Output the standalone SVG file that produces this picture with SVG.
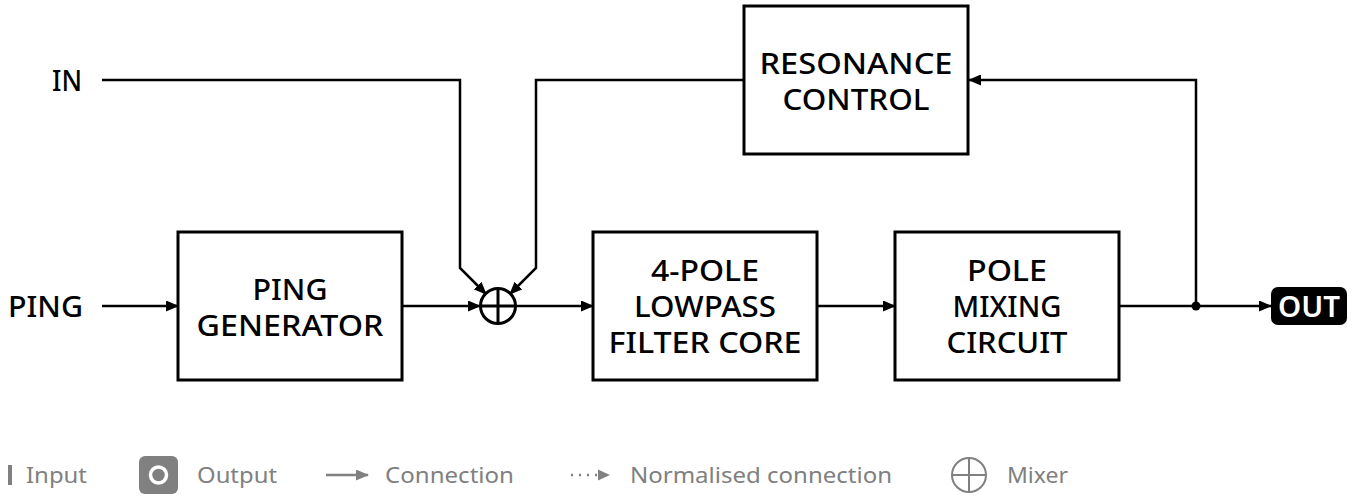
<svg xmlns="http://www.w3.org/2000/svg" width="1360" height="496" viewBox="0 0 1360 496">
<style>
.box{fill:#fff;stroke:#000;stroke-width:3}
.t{font-family:"Noto Sans","Open Sans","DejaVu Sans",sans-serif;font-weight:500;font-size:29px;fill:#000;text-anchor:middle}
.lbl{font-family:"Noto Sans","Open Sans","DejaVu Sans",sans-serif;font-weight:500;font-size:29px;fill:#000}
.w{stroke:#000;stroke-width:2.5;fill:none}
.lg{font-family:"Noto Sans","Open Sans","DejaVu Sans",sans-serif;font-size:22px;fill:#808080}
.gw{stroke:#808080;stroke-width:2.5;fill:none}
</style>
<defs>
<marker id="ah" markerUnits="userSpaceOnUse" markerWidth="13" markerHeight="11" refX="12" refY="5.5" orient="auto"><path d="M0,0 L13,5.5 L0,11 z" fill="#000"/></marker>
<marker id="ahg" markerUnits="userSpaceOnUse" markerWidth="13" markerHeight="11" refX="12" refY="5.5" orient="auto"><path d="M0,0 L13,5.5 L0,11 z" fill="#808080"/></marker>
</defs>

<g id="connectors">
<path class="w" d="M102,80 H460 V268 L486,294" marker-end="url(#ah)"/>
<path class="w" d="M744,80 H536 V268 L510,294" marker-end="url(#ah)"/>
<path class="w" d="M102,306 H178" marker-end="url(#ah)"/>
<path class="w" d="M402,306 H480" marker-end="url(#ah)"/>
<path class="w" d="M516,306 H593" marker-end="url(#ah)"/>
<path class="w" d="M817,306 H895" marker-end="url(#ah)"/>
<path class="w" d="M1119,306 H1271" marker-end="url(#ah)"/>
<path class="w" d="M1196,306 V80 H969" marker-end="url(#ah)"/>
<circle cx="1196" cy="306" r="4.5" fill="#000"/>
</g>

<g id="in"><text class="lbl" x="67" y="91" text-anchor="middle" textLength="30" lengthAdjust="spacingAndGlyphs">IN</text></g>
<g id="ping"><text class="lbl" x="45.5" y="317" text-anchor="middle" textLength="75" lengthAdjust="spacingAndGlyphs">PING</text></g>

<g id="resonance">
<rect class="box" x="744" y="6" width="224" height="148"/>
<text class="t" x="856" y="74" textLength="193" lengthAdjust="spacingAndGlyphs">RESONANCE</text>
<text class="t" x="856" y="110" textLength="147" lengthAdjust="spacingAndGlyphs">CONTROL</text>
</g>

<g id="ping-generator">
<rect class="box" x="178" y="232" width="224" height="148"/>
<text class="t" x="290" y="300" textLength="75" lengthAdjust="spacingAndGlyphs">PING</text>
<text class="t" x="290" y="336" textLength="187" lengthAdjust="spacingAndGlyphs">GENERATOR</text>
</g>

<g id="mixer">
<circle cx="498" cy="306" r="17.5" fill="#fff" stroke="#000" stroke-width="3"/>
<path d="M480.5,306 H515.5 M498,288.5 V323.5" stroke="#000" stroke-width="3"/>
</g>

<g id="filter">
<rect class="box" x="593" y="232" width="224" height="148"/>
<text class="t" x="705" y="281" textLength="108" lengthAdjust="spacingAndGlyphs">4-POLE</text>
<text class="t" x="705" y="317" textLength="142" lengthAdjust="spacingAndGlyphs">LOWPASS</text>
<text class="t" x="705" y="353" textLength="193" lengthAdjust="spacingAndGlyphs">FILTER CORE</text>
</g>

<g id="pole-mixing">
<rect class="box" x="895" y="232" width="224" height="148"/>
<text class="t" x="1007" y="281" textLength="80" lengthAdjust="spacingAndGlyphs">POLE</text>
<text class="t" x="1007" y="317" textLength="109" lengthAdjust="spacingAndGlyphs">MIXING</text>
<text class="t" x="1007" y="353" textLength="121" lengthAdjust="spacingAndGlyphs">CIRCUIT</text>
</g>

<g id="out">
<rect x="1271" y="287" width="76" height="38" rx="7" fill="#000"/>
<text x="1309" y="317" text-anchor="middle" font-family="Noto Sans, Open Sans, sans-serif" font-weight="600" font-size="28" fill="#fff" textLength="62" lengthAdjust="spacingAndGlyphs">OUT</text>
</g>

<g id="legend">
<rect x="8" y="465" width="4" height="20" fill="#808080"/>
<text class="lg" x="26" y="483" textLength="61" lengthAdjust="spacingAndGlyphs">Input</text>
<rect x="139" y="456" width="39" height="38" rx="6" fill="#808080"/>
<circle cx="158.5" cy="475" r="8" fill="none" stroke="#fff" stroke-width="3.5"/>
<text class="lg" x="197" y="483" textLength="80" lengthAdjust="spacingAndGlyphs">Output</text>
<path class="gw" d="M326,475 H368" marker-end="url(#ahg)"/>
<text class="lg" x="385" y="483" textLength="129" lengthAdjust="spacingAndGlyphs">Connection</text>
<path class="gw" d="M571,475 H598" stroke-dasharray="2,6" stroke-width="2"/>
<path d="M598,469.5 L610,475 L598,480.5 z" fill="#808080"/>
<text class="lg" x="630" y="483" textLength="262" lengthAdjust="spacingAndGlyphs">Normalised connection</text>
<circle cx="969" cy="475" r="17" fill="none" stroke="#808080" stroke-width="2"/>
<path d="M952,475 H986 M969,458 V492" stroke="#808080" stroke-width="2"/>
<text class="lg" x="1007" y="483" textLength="61" lengthAdjust="spacingAndGlyphs">Mixer</text>
</g>
</svg>
